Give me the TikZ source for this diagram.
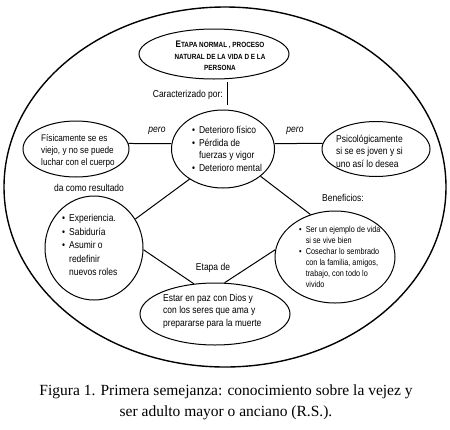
\documentclass[tikz,border=0pt]{standalone}
\usepackage{fontspec}
\setmainfont[FakeStretch=0.85]{Liberation Sans}
\newfontfamily\capfont{Liberation Serif}
\usetikzlibrary{shapes.geometric}

\newcommand{\bul}{\textbullet\hspace{4pt}}
\newcommand{\nobul}{\phantom{\textbullet}\hspace{4pt}}

\begin{document}
\begin{tikzpicture}[x=1pt,y=-1pt,
    bubble/.style={draw,ellipse,line width=1pt,inner sep=0pt},
    txt/.style={align=left,inner sep=0pt,font=\fontsize{10}{12.5}\selectfont},
    small/.style={align=left,inner sep=0pt,font=\fontsize{8.6}{11}\selectfont}]
  \useasboundingbox (0,0) rectangle (450,429);
  % ellipses
  \node[bubble,line width=1.4pt,minimum width=442pt,minimum height=360pt] (outer) at (225,187) {};
  \node[bubble,minimum width=150pt,minimum height=50pt] (top) at (214,54) {};
  \node[bubble,minimum width=103pt,minimum height=78pt] (mid) at (223,149) {};
  \node[bubble,minimum width=106pt,minimum height=56pt] (fis) at (76,149) {};
  \node[bubble,minimum width=108pt,minimum height=55pt] (psi) at (376,149) {};
  \node[bubble,minimum width=98pt,minimum height=104pt] (exp) at (94,248) {};
  \node[bubble,minimum width=120pt,minimum height=92pt] (ben) at (335,257) {};
  \node[bubble,minimum width=150pt,minimum height=62pt] (paz) at (215,314) {};
  % connectors
  \coordinate (capA) at (227,82);
  \coordinate (capB) at (227,105);
  \draw[line width=1pt] (capA) -- (capB);
  \foreach \a/\b in {fis.6/mid.174,mid.6/psi.174,mid.222/exp.35,mid.-36/ben.120,exp.-2/paz.125,ben.173/paz.73}{
    \draw[line width=1pt] (\a) -- (\b);
  }
  % texts
  \node[align=center,inner sep=0pt,font=\bfseries\fontsize{7.5}{11.5}\selectfont] (toptxt) at (220,56)
    {{\fontsize{9.5}{11.5}\selectfont E}TAPA NORMAL , PROCESO\\NATURAL DE LA VIDA D E LA\\PERSONA};
  \node[txt,anchor=east] (carac) at (223,95) {Caracterizado por:};
  \node[txt] (midtxt) at (227,149) {\bul Deterioro físico\\\bul Pérdida de\\\nobul fuerzas y vigor\\\bul Deterioro mental};
  \node[txt,anchor=west,font=\fontsize{9.6}{12}\selectfont] (fistxt) at (41,151) {Físicamente se es\\viejo, y no se puede\\luchar con el cuerpo};
  \node[txt,anchor=west] (psitxt) at (336,151) {Psicológicamente\\si se es joven y si\\uno así lo desea};
  \node[txt,font=\itshape\fontsize{10}{12.5}\selectfont] (pero1) at (157,131) {pero};
  \node[txt,font=\itshape\fontsize{10}{12.5}\selectfont] (pero2) at (295,131) {pero};
  \node[txt] (result) at (89,188) {da como resultado};
  \node[txt] (benef) at (343,198) {Beneficios:};
  \node[txt,anchor=west,font=\fontsize{10}{13.5}\selectfont] (exptxt) at (62,245) {\bul Experiencia.\\\bul Sabiduría\\\bul Asumir o\\\nobul redefinir\\\nobul nuevos roles};
  \node[small,anchor=west] (bentxt) at (299,257) {\bul Ser un ejemplo de vida\\\nobul si se vive bien\\\bul Cosechar lo sembrado\\\nobul con la familia, amigos,\\\nobul trabajo, con todo lo\\\nobul vivido};
  \node[txt] (etapa) at (213,268) {Etapa de};
  \node[txt,anchor=west] (paztxt) at (163,311) {Estar en paz con Dios y\\con los seres que ama y\\prepararse para la muerte};
  \node[align=center,inner sep=0pt,font=\capfont\fontsize{15.5}{21}\selectfont] (caption) at (226,402)
    {Figura 1. Primera semejanza: conocimiento sobre la vejez y\\ser adulto mayor o anciano (R.S.).};
\end{tikzpicture}
\end{document}
